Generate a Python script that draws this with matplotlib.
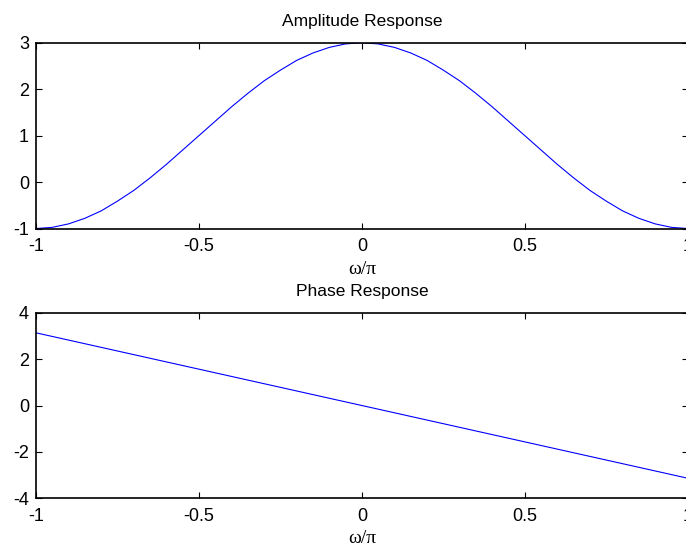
import matplotlib
matplotlib.use("Agg")
import matplotlib.pyplot as plt

# frequency axis (omega / pi) and amplitude values
w = [-1.00, -0.95, -0.90, -0.85, -0.80, -0.75, -0.70, -0.65, -0.60, -0.55,
     -0.50, -0.45, -0.40, -0.35, -0.30, -0.25, -0.20, -0.15, -0.10, -0.05,
     0.00, 0.05, 0.10, 0.15, 0.20, 0.25, 0.30, 0.35, 0.40, 0.45,
     0.50, 0.55, 0.60, 0.65, 0.70, 0.75, 0.80, 0.85, 0.90, 0.95, 1.00]
amp = [-1.00, -0.975, -0.90, -0.78, -0.62, -0.41, -0.18, 0.09, 0.38, 0.69,
       1.00, 1.31, 1.62, 1.91, 2.18, 2.41, 2.62, 2.78, 2.90, 2.975,
       3.00, 2.975, 2.90, 2.78, 2.62, 2.41, 2.18, 1.91, 1.62, 1.31,
       1.00, 0.69, 0.38, 0.09, -0.18, -0.41, -0.62, -0.78, -0.90, -0.975, -1.00]

w_phase = [-1.0, 1.0]
phase = [3.14, -3.14]

xticks = [-1, -0.5, 0, 0.5, 1]
xticklabels = ["-1", "-0.5", "0", "0.5", "1"]

plt.rcParams["font.family"] = ["Liberation Sans", "DejaVu Sans"]
plt.rcParams["axes.unicode_minus"] = False

fig = plt.figure(figsize=(6.86, 5.48), dpi=100)


def style(ax):
    ax.tick_params(direction="in", top=True, right=True, length=4,
                   labelsize=13, width=0.8)
    ax.tick_params(axis="x", pad=7)
    ax.tick_params(axis="y", pad=5)
    for s in ax.spines.values():
        s.set_linewidth(1.2)
    ax.set_xticks(xticks)
    ax.set_xticklabels(xticklabels)
    ax.set_xlabel("ω/π", family=["Liberation Serif", "DejaVu Serif"],
                  fontsize=14, labelpad=4)


ax1 = fig.add_axes([0.0525, 0.583, 0.950, 0.339])
ax1.plot(w, amp, color="blue", lw=0.8)
ax1.set_xlim(-1, 1)
ax1.set_ylim(-1, 3)
ax1.set_yticks([-1, 0, 1, 2, 3])
ax1.set_title("Amplitude Response", fontsize=12.5, pad=12)
style(ax1)

ax2 = fig.add_axes([0.0525, 0.091, 0.950, 0.338])
ax2.plot(w_phase, phase, color="blue", lw=0.8)
ax2.set_xlim(-1, 1)
ax2.set_ylim(-4, 4)
ax2.set_yticks([-4, -2, 0, 2, 4])
ax2.set_title("Phase Response", fontsize=12.5, pad=12)
style(ax2)

fig.savefig("out.png", dpi=100)
